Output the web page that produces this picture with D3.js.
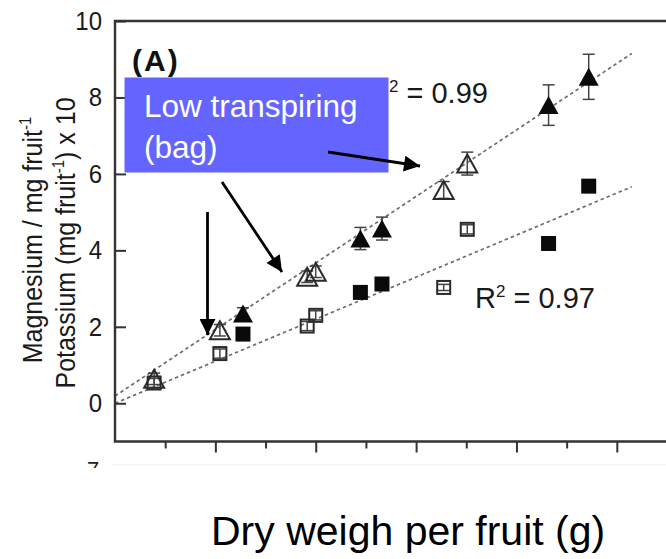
<!DOCTYPE html>
<html>
<head>
<meta charset="utf-8">
<script src="https://cdnjs.cloudflare.com/ajax/libs/d3/7.8.5/d3.min.js"></script>
<style>
    body { margin: 0; background: #fff; }
    svg { display: block; font-family: "Liberation Sans", Arial, Helvetica, sans-serif; }
</style>
</head>
<body>
<div id="chart"></div>
<script>
// dry weight per fruit (g)
var dryBag = [0.78, 2.09, 3.83, 4.00, 6.55, 7.02];
var dryCtrl = [2.55, 4.89, 5.32, 8.64, 9.44];

// potassium (open / filled triangles)
var kBag = [0.64, 1.91, 3.31, 3.44, 5.58, 6.27];
var kBagErr = [0.15, 0.15, 0.15, 0.15, 0.22, 0.30];
var kCtrl = [2.35, 4.31, 4.57, 7.80, 8.54];
var kCtrlErr = [0.15, 0.29, 0.30, 0.53, 0.59];

// magnesium (open / filled squares)
var mgBag = [0.53, 1.30, 2.02, 2.30, 3.03, 4.55];
var mgBagErr = [0.12, 0.12, 0.12, 0.12, 0.08, 0.12];
var mgCtrl = [1.81, 2.90, 3.12, 4.18, 5.68];

// linear fits [intercept, slope]
var kFit = [0.19, 0.87];
var mgFit = [0.0, 0.55];
var fitRange = [0, 10.3];

var yTicks = [0, 2, 4, 6, 8, 10];
var xMajor = [2, 4, 6, 8, 10];
var xMinor = [1, 3, 5, 7, 9];

var width = 666, height = 559;

var x = d3.scaleLinear().domain([0, 11]).range([115, 667]);
var y = d3.scaleLinear().domain([-1, 10]).range([441.5, 21]);

var svg = d3.select('#chart').append('svg')
    .attr('width', width)
    .attr('height', height);

svg.append('rect').attr('width', width).attr('height', height).attr('fill', '#fff');

// faint edge of the pasted figure
svg.append('line')
    .attr('x1', 112).attr('x2', 666)
    .attr('y1', 465).attr('y2', 465)
    .attr('stroke', '#ececec').attr('stroke-width', 1);

// clipped glyph left over from the original figure
svg.append('clipPath').attr('id', 'cut')
    .append('rect').attr('x', 80).attr('y', 455).attr('width', 30).attr('height', 13);
svg.append('text')
    .attr('clip-path', 'url(#cut)')
    .attr('x', 87).attr('y', 477)
    .attr('font-size', 22)
    .attr('fill', '#222')
    .text('7');

// fit lines
function fitLine(fit) {
    return fitRange.map(function(v) { return [x(v), y(fit[0] + fit[1] * v)]; });
}
[kFit, mgFit].forEach(function(fit) {
    svg.append('path')
        .attr('d', d3.line()(fitLine(fit)))
        .attr('fill', 'none')
        .attr('stroke', '#6e6e6e')
        .attr('stroke-width', 1.7)
        .attr('stroke-dasharray', '3.5,3');
});

// axes
var xAxisMajor = d3.axisBottom(x).tickValues(xMajor).tickSize(11).tickFormat('');
var xAxisMinor = d3.axisBottom(x).tickValues(xMinor).tickSize(7).tickFormat('');
[xAxisMajor, xAxisMinor].forEach(function(ax) {
    var g = svg.append('g')
        .attr('transform', 'translate(0,' + y(-1) + ')')
        .call(ax);
    g.select('.domain').remove();
    g.selectAll('line').attr('stroke', '#333').attr('stroke-width', 2);
});

var yAxis = d3.axisLeft(y).tickValues(yTicks).tickSizeInner(-11).tickSizeOuter(0).tickPadding(13);
var gy = svg.append('g')
    .attr('transform', 'translate(' + x(0) + ',0)')
    .call(yAxis);
gy.select('.domain').remove();
gy.selectAll('line').attr('stroke', '#333').attr('stroke-width', 2);
gy.selectAll('text')
    .attr('font-size', 24)
    .attr('fill', '#1a1a1a')
    .attr('transform', 'scale(1,1.08)')
    .attr('font-family', '"Liberation Sans", Arial, sans-serif');

// frame (right side falls off the page)
svg.append('path')
    .attr('d', 'M' + x(11) + ',' + y(10) + 'H' + x(0) + 'V' + y(-1) + 'H' + x(11))
    .attr('fill', 'none')
    .attr('stroke', '#333')
    .attr('stroke-width', 2.4);

// error bars
function errorBars(xs, ys, errs) {
    var g = svg.append('g').attr('stroke', '#444').attr('stroke-width', 1.5);
    xs.forEach(function(v, i) {
        var e = errs[i];
        if (!e) return;
        var cx = x(v), y0 = y(ys[i] - e), y1 = y(ys[i] + e);
        g.append('line').attr('x1', cx).attr('x2', cx).attr('y1', y0).attr('y2', y1);
        g.append('line').attr('x1', cx - 6).attr('x2', cx + 6).attr('y1', y0).attr('y2', y0);
        g.append('line').attr('x1', cx - 6).attr('x2', cx + 6).attr('y1', y1).attr('y2', y1);
    });
}
errorBars(dryBag, mgBag, mgBagErr);
errorBars(dryBag, kBag, kBagErr);
errorBars(dryCtrl, kCtrl, kCtrlErr);

// markers
function triangle(cx, cy) {
    var w = 10, h = 9;
    return 'M' + cx + ',' + (cy - h) + 'L' + (cx + w) + ',' + (cy + h) + 'L' + (cx - w) + ',' + (cy + h) + 'Z';
}

svg.append('g').selectAll('rect')
    .data(dryBag)
    .enter().append('rect')
    .attr('x', function(d) { return x(d) - 6.5; })
    .attr('y', function(d, i) { return y(mgBag[i]) - 6.5; })
    .attr('width', 13).attr('height', 13)
    .attr('fill', 'none')
    .attr('stroke', '#2a2a2a')
    .attr('stroke-width', 2);

svg.append('g').selectAll('rect')
    .data(dryCtrl)
    .enter().append('rect')
    .attr('x', function(d) { return x(d) - 7.5; })
    .attr('y', function(d, i) { return y(mgCtrl[i]) - 7.5; })
    .attr('width', 15).attr('height', 15)
    .attr('fill', '#0a0a0a');

svg.append('g').selectAll('path')
    .data(dryBag)
    .enter().append('path')
    .attr('d', function(d, i) { return triangle(x(d), y(kBag[i])); })
    .attr('fill', 'none')
    .attr('stroke', '#2a2a2a')
    .attr('stroke-width', 2);

svg.append('g').selectAll('path')
    .data(dryCtrl)
    .enter().append('path')
    .attr('d', function(d, i) { return triangle(x(d), y(kCtrl[i])); })
    .attr('fill', '#0a0a0a');

// panel letter and R2 labels
svg.append('text')
    .attr('x', 132).attr('y', 71)
    .attr('font-size', 30)
    .attr('font-weight', 'bold')
    .attr('letter-spacing', 2)
    .attr('fill', '#111')
    .text('(A)');

function r2Label(px, py, value) {
    var t = svg.append('text')
        .attr('x', px).attr('y', py)
        .attr('font-size', 29)
        .attr('fill', '#1a1a1a');
    t.append('tspan').text('R');
    t.append('tspan').attr('font-size', 17).attr('dy', -11).text('2');
    t.append('tspan').attr('dy', 11).text(' = ' + value);
}
r2Label(368, 103, '0.99');
r2Label(475, 308, '0.97');

// callout box
svg.append('rect')
    .attr('x', 124.5).attr('y', 77.5)
    .attr('width', 264).attr('height', 95)
    .attr('fill', '#6464ff');

svg.append('text')
    .attr('x', 144).attr('y', 117)
    .attr('font-size', 31.5)
    .attr('fill', '#fff')
    .text('Low transpiring');
svg.append('text')
    .attr('x', 144).attr('y', 158)
    .attr('font-size', 31.5)
    .attr('fill', '#fff')
    .text('(bag)');

// arrows
svg.append('defs').append('marker')
    .attr('id', 'head')
    .attr('viewBox', '0 0 10 10')
    .attr('refX', 10).attr('refY', 5)
    .attr('markerUnits', 'userSpaceOnUse')
    .attr('markerWidth', 19).attr('markerHeight', 16)
    .attr('orient', 'auto')
    .append('path')
    .attr('d', 'M0,0L10,5L0,10Z')
    .attr('fill', '#000');

var arrows = [
    [[328, 152], [420, 166]],
    [[222, 182], [282, 272]],
    [[207.5, 212], [207.5, 335]]
];
arrows.forEach(function(a) {
    svg.append('path')
        .attr('d', d3.line()(a))
        .attr('stroke', '#000')
        .attr('stroke-width', 2.8)
        .attr('marker-end', 'url(#head)');
});

// axis titles
var yTitle = svg.append('g').attr('fill', '#1a1a1a').attr('font-size', 25);
var t1 = yTitle.append('text')
    .attr('transform', 'translate(42,240) rotate(-90) scale(1,1.12)')
    .attr('text-anchor', 'middle');
t1.append('tspan').text('Magnesium / mg fruit');
t1.append('tspan').attr('font-size', 15).attr('dy', -10).text('-1');

var t2 = yTitle.append('text')
    .attr('transform', 'translate(75,243) rotate(-90) scale(1,1.12)')
    .attr('text-anchor', 'middle');
t2.append('tspan').text('Potassium (mg fruit');
t2.append('tspan').attr('font-size', 15).attr('dy', -10).text('-1');
t2.append('tspan').attr('dy', 10).text(') x 10');

svg.append('text')
    .attr('x', 211).attr('y', 545)
    .attr('font-size', 41)
    .attr('fill', '#000')
    .text('Dry weigh per fruit (g)');
</script>
</body>
</html>
